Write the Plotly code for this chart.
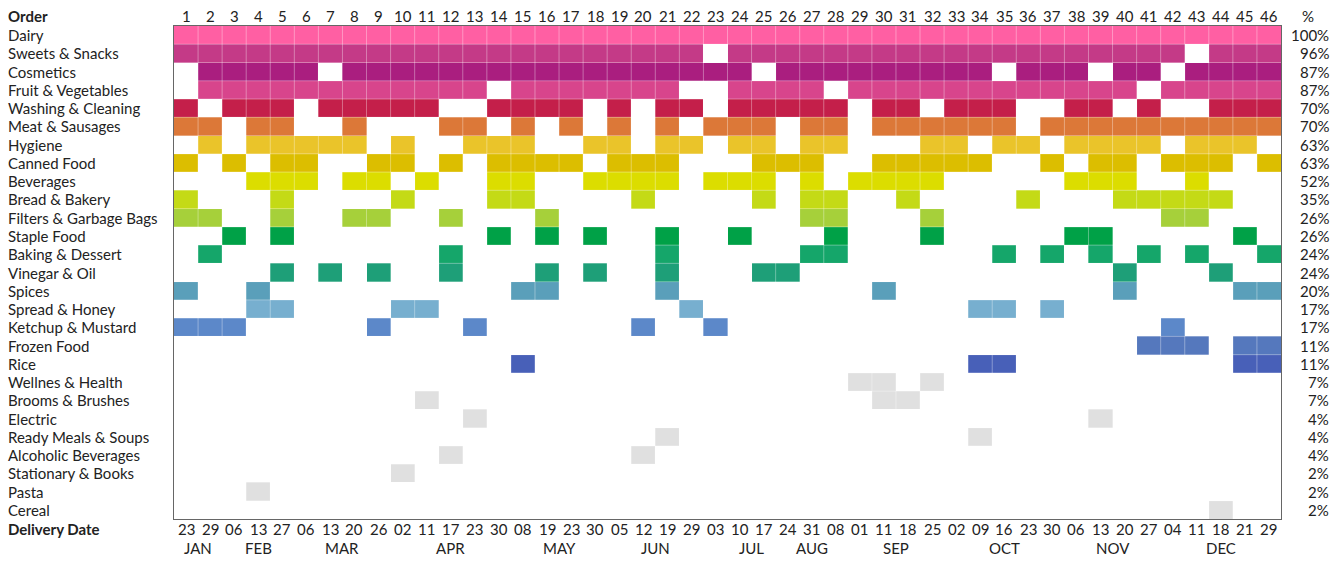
import plotly.graph_objects as go

# ---------------- data ----------------
orders = list(range(1, 47))
delivery_days = ["23", "29", "06", "13", "27", "06", "13", "20", "26", "02", "11", "17", "23",
                 "30", "08", "19", "23", "30", "05", "12", "19", "29", "03", "10", "17", "24",
                 "31", "08", "01", "11", "18", "25", "02", "09", "16", "23", "30", "06", "13",
                 "20", "27", "04", "11", "18", "21", "29"]
month_labels = ["JAN", "FEB", "MAR", "APR", "MAY", "JUN", "JUL", "AUG", "SEP", "OCT", "NOV", "DEC"]
month_ticks = [1.5, 4, 7.5, 12, 16.5, 20.5, 24.5, 27, 30.5, 35, 39.5, 44]

categories = ["Dairy", "Sweets & Snacks", "Cosmetics", "Fruit & Vegetables", "Washing & Cleaning",
              "Meat & Sausages", "Hygiene", "Canned Food", "Beverages", "Bread & Bakery",
              "Filters & Garbage Bags", "Staple Food", "Baking & Dessert", "Vinegar & Oil",
              "Spices", "Spread & Honey", "Ketchup & Mustard", "Frozen Food", "Rice",
              "Wellnes & Health", "Brooms & Brushes", "Electric", "Ready Meals & Soups",
              "Alcoholic Beverages", "Stationary & Books", "Pasta", "Cereal"]

# orders in which each category was bought
dairy = [1, 2, 3, 4, 5, 6, 7, 8, 9, 10, 11, 12, 13, 14, 15, 16, 17, 18, 19, 20, 21, 22, 23,
         24, 25, 26, 27, 28, 29, 30, 31, 32, 33, 34, 35, 36, 37, 38, 39, 40, 41, 42, 43, 44, 45, 46]
sweets_snacks = [1, 2, 3, 4, 5, 6, 7, 8, 9, 10, 11, 12, 13, 14, 15, 16, 17, 18, 19, 20, 21, 22,
                 24, 25, 26, 27, 28, 29, 30, 31, 32, 33, 34, 35, 36, 37, 38, 39, 40, 41, 42, 44, 45, 46]
cosmetics = [2, 3, 4, 5, 6, 8, 9, 10, 11, 12, 13, 14, 15, 16, 17, 18, 19, 20, 21, 22, 23, 24,
             26, 27, 28, 29, 30, 31, 32, 33, 34, 36, 37, 38, 40, 41, 43, 44, 45, 46]
fruit_vegetables = [2, 3, 4, 5, 6, 7, 8, 9, 10, 11, 12, 13, 15, 16, 17, 18, 19, 20, 21, 24, 25,
                    26, 27, 29, 30, 31, 32, 33, 34, 35, 36, 37, 38, 39, 40, 42, 43, 44, 45, 46]
washing_cleaning = [1, 3, 4, 5, 7, 8, 9, 10, 11, 14, 15, 16, 17, 19, 21, 22, 24, 25, 26, 27, 28,
                    30, 31, 33, 34, 35, 38, 39, 41, 44, 45, 46]
meat_sausages = [1, 2, 4, 5, 8, 12, 13, 15, 17, 19, 21, 23, 24, 25, 27, 28, 30, 31, 32, 33, 34,
                 35, 37, 38, 39, 40, 41, 42, 43, 44, 45, 46]
hygiene = [2, 4, 5, 6, 7, 8, 10, 13, 14, 15, 18, 19, 21, 22, 24, 25, 27, 28, 32, 33, 35, 36, 38,
           39, 40, 41, 43, 44, 45]
canned_food = [1, 3, 5, 6, 9, 10, 12, 14, 15, 16, 17, 19, 20, 21, 25, 26, 27, 30, 31, 32, 33, 34,
               37, 39, 40, 42, 43, 44, 46]
beverages = [4, 5, 6, 8, 9, 11, 14, 15, 18, 19, 20, 21, 23, 24, 25, 27, 29, 30, 31, 32, 38, 39, 40, 43]
bread_bakery = [1, 5, 10, 14, 15, 20, 25, 27, 28, 31, 36, 40, 41, 42, 43, 44]
filters_bags = [1, 2, 5, 8, 9, 12, 16, 27, 28, 32, 42, 43]
staple_food = [3, 5, 14, 16, 18, 21, 24, 28, 32, 38, 39, 45]
baking_dessert = [2, 12, 21, 27, 28, 35, 37, 39, 41, 43, 46]
vinegar_oil = [5, 7, 9, 12, 16, 18, 21, 25, 26, 40, 44]
spices = [1, 4, 15, 16, 21, 30, 40, 45, 46]
spread_honey = [4, 5, 10, 11, 22, 34, 35, 37]
ketchup_mustard = [1, 2, 3, 9, 13, 20, 23, 42]
frozen_food = [41, 42, 43, 45, 46]
rice = [15, 34, 35, 45, 46]
wellness_health = [29, 30, 32]
brooms_brushes = [11, 30, 31]
electric = [13, 39]
ready_meals = [21, 34]
alcoholic = [12, 20]
stationary = [10]
pasta = [4]
cereal = [44]

category_orders = [dairy, sweets_snacks, cosmetics, fruit_vegetables, washing_cleaning,
                   meat_sausages, hygiene, canned_food, beverages, bread_bakery, filters_bags,
                   staple_food, baking_dessert, vinegar_oil, spices, spread_honey, ketchup_mustard,
                   frozen_food, rice, wellness_health, brooms_brushes, electric, ready_meals,
                   alcoholic, stationary, pasta, cereal]

# ---------------- style ----------------
GREY = "#E0E0E0"
row_colors = ["#FF5FA3", "#C43A87", "#AA1E7F", "#D8458C", "#C41F4A", "#DC7838", "#EAC42A",
              "#DCBE00", "#DCDD00", "#C4DA16", "#A6D03A", "#00A147", "#15A66A", "#1E9F78",
              "#5A9FBA", "#77AFCF", "#5C88C9", "#5578BD", "#4860B8"] + [GREY] * 8
FONT = "Lato"
FS = 15
TXT = "#222222"

n_rows = len(categories)
n_cols = len(orders)

z = []
for i, present in enumerate(category_orders):
    z.append([i if o in present else None for o in orders])

colorscale = []
for k, c in enumerate(row_colors):
    colorscale.append([k / n_rows, c])
    colorscale.append([(k + 1) / n_rows, c])

fig = go.Figure()
fig.add_trace(go.Heatmap(
    x=orders, y=list(range(n_rows)), z=z,
    colorscale=colorscale, zmin=-0.5, zmax=n_rows - 0.5,
    showscale=False, hoverongaps=False,
    customdata=[[categories[i]] * n_cols for i in range(n_rows)],
    hovertemplate="Order %{x}<br>%{customdata}<extra></extra>",
))

# faint cell separators
shapes = []
for j in range(1, n_cols):
    shapes.append(dict(type="line", xref="x", yref="y", x0=j + 0.5, x1=j + 0.5,
                       y0=-0.5, y1=n_rows - 0.5,
                       line=dict(color="rgba(255,255,255,0.35)", width=1), layer="above"))
for i in range(1, n_rows):
    shapes.append(dict(type="line", xref="x", yref="y", x0=0.5, x1=n_cols + 0.5,
                       y0=i - 0.5, y1=i - 0.5,
                       line=dict(color="rgba(255,255,255,0.35)", width=1), layer="above"))

ann = []
def txt(text, **kw):
    d = dict(text=text, showarrow=False, font=dict(family=FONT, size=FS, color=TXT))
    d.update(kw)
    ann.append(d)

# row labels and percentages
for i, (cat, present) in enumerate(zip(categories, category_orders)):
    txt(cat, xref="paper", x=0, xshift=-168, xanchor="left", yref="y", y=i, yanchor="middle")
    pct = round(100 * len(present) / n_cols)
    txt(f"{pct}%", xref="paper", x=1, xshift=50, xanchor="right", yref="y", y=i, yanchor="middle")

# header row
txt("<b>Order</b>", xref="paper", x=0, xshift=-168, xanchor="left", yref="paper", y=1,
    yshift=10, yanchor="middle")
txt("%", xref="paper", x=1, xshift=27, xanchor="center", yref="paper", y=1, yshift=10,
    yanchor="middle")
for o in orders:
    txt(str(o), xref="x", x=o, xanchor="center", yref="paper", y=1, yshift=10, yanchor="middle")

# footer
txt("<b>Delivery Date</b>", xref="paper", x=0, xshift=-168, xanchor="left", yref="paper", y=0,
    yshift=-10, yanchor="middle")
for o, d in zip(orders, delivery_days):
    txt(d, xref="x", x=o, xanchor="center", yref="paper", y=0, yshift=-10, yanchor="middle")
for m, pos in zip(month_labels, month_ticks):
    txt(m, xref="x", x=pos, xanchor="center", yref="paper", y=0, yshift=-29, yanchor="middle")

fig.update_layout(
    width=1344, height=561, autosize=False,
    margin=dict(l=174, r=63, t=26, b=42, pad=0),
    paper_bgcolor="white", plot_bgcolor="white",
    font=dict(family=FONT, size=FS, color=TXT),
    xaxis=dict(range=[0.5, n_cols + 0.5], showgrid=False, zeroline=False, showticklabels=False,
               ticks="", showline=True, mirror=True, linecolor="#666666", linewidth=1,
               fixedrange=True),
    yaxis=dict(range=[n_rows - 0.5, -0.5], showgrid=False, zeroline=False, showticklabels=False,
               ticks="", showline=True, mirror=True, linecolor="#666666", linewidth=1,
               fixedrange=True),
    shapes=shapes,
    annotations=ann,
)

fig.write_html("out.html", config={"displayModeBar": False},
               post_script="document.body.style.margin='0';document.body.style.overflow='hidden';")
